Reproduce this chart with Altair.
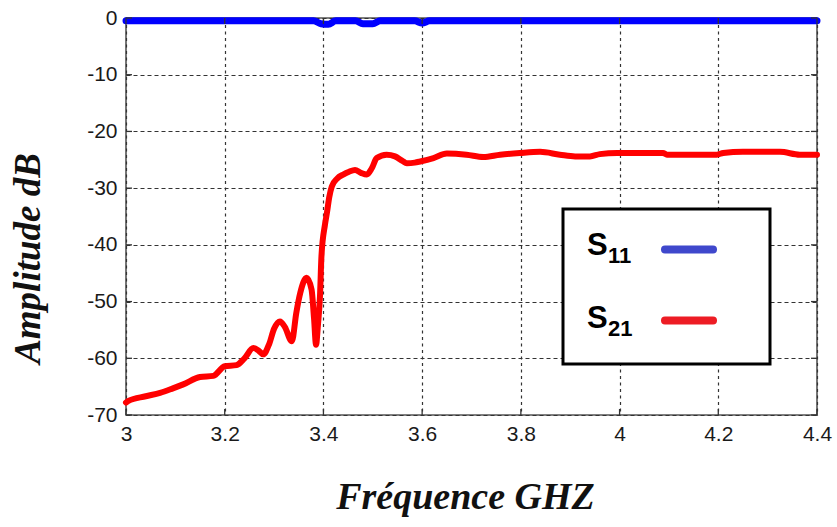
import altair as alt
import pandas as pd

# S21 transmission (dB) versus frequency (GHz)
s21_freq = [3.000, 3.005, 3.040, 3.069, 3.095, 3.116, 3.150, 3.177, 3.200, 3.224,
            3.240, 3.258, 3.268, 3.278, 3.290, 3.300, 3.312, 3.322, 3.336, 3.345,
            3.353, 3.366, 3.376, 3.381, 3.385, 3.389, 3.393, 3.396, 3.403, 3.407,
            3.412, 3.417, 3.428, 3.440, 3.452, 3.464, 3.476, 3.488, 3.498, 3.508,
            3.528, 3.545, 3.560, 3.569, 3.585, 3.596, 3.623, 3.650, 3.690, 3.724,
            3.758, 3.798, 3.839, 3.879, 3.910, 3.940, 3.960, 3.995, 4.088, 4.096,
            4.197, 4.210, 4.250, 4.325, 4.365, 4.400]
s21_db = [-67.8, -67.5, -66.7, -66.1, -65.3, -64.6, -63.3, -63.1, -61.4, -61.2,
          -60.0, -58.2, -58.6, -59.3, -57.5, -54.8, -53.5, -54.5, -57.0, -52.0,
          -48.5, -45.8, -47.9, -53.0, -57.6, -54.0, -49.1, -42.0, -36.5, -34.4,
          -31.5, -29.7, -28.3, -27.6, -27.1, -26.8, -27.3, -27.6, -26.5, -24.7,
          -24.1, -24.4, -25.2, -25.6, -25.5, -25.3, -24.7, -23.9, -24.1, -24.5,
          -24.1, -23.8, -23.6, -24.1, -24.4, -24.4, -24.0, -23.8, -23.8, -24.1,
          -24.1, -23.8, -23.6, -23.6, -24.1, -24.1]

# S11 reflection (dB) versus frequency (GHz)
s11_freq = [3.000, 3.180, 3.190, 3.380, 3.395, 3.410, 3.425, 3.465, 3.480, 3.500,
            3.515, 3.585, 3.600, 3.615, 4.400]
s11_db = [-0.5, -0.5, -0.5, -0.5, -1.0, -1.1, -0.5, -0.5, -1.0, -1.0,
          -0.5, -0.5, -0.9, -0.5, -0.5]

x_ticks = [3.0, 3.2, 3.4, 3.6, 3.8, 4.0, 4.2, 4.4]
y_ticks = [0, -10, -20, -30, -40, -50, -60, -70]

legend_names = ["S", "S"]
legend_subs = ["11", "21"]
legend_colors = ["#3F48CC", "#ED1C24"]

W, H = 691, 397

x_scale = alt.Scale(domain=[3, 4.4], nice=False, zero=False)
y_scale = alt.Scale(domain=[-70, 0], nice=False, zero=False)

df21 = pd.DataFrame({"f": s21_freq, "db": s21_db})
df11 = pd.DataFrame({"f": s11_freq, "db": s11_db})
dfx = pd.DataFrame({"f": x_ticks})
dfy = pd.DataFrame({"db": y_ticks})
one = pd.DataFrame({"k": [0]})

x_axis = alt.Axis(
    values=x_ticks, format=".1~f", grid=True, gridDash=[3, 3.5], gridColor="#333",
    gridWidth=1.2, gridOpacity=1, domain=False, ticks=False, labelFlush=False,
    labelFont="Liberation Sans", labelFontSize=21, labelColor="#1a1a1a", labelPadding=8,
    title="Fréquence GHZ", titleFont="Liberation Serif", titleFontSize=38,
    titleFontStyle="italic", titleFontWeight="bold", titleColor="#111",
    titleAlign="center", titleBaseline="alphabetic", titleX=339, titleY=93,
)
y_axis = alt.Axis(
    values=y_ticks, grid=True, gridDash=[4, 3], gridColor="#333", gridWidth=1.2,
    gridOpacity=1, domain=False, ticks=False, labelFlush=False,
    labelExpr="datum.value == 0 ? '0' : '-' + abs(datum.value)",
    labelFont="Liberation Sans", labelFontSize=21, labelColor="#1a1a1a", labelPadding=9,
    title="Amplitude dB", titleFont="Liberation Serif", titleFontSize=37,
    titleFontStyle="italic", titleFontWeight="bold", titleColor="#111",
    titleAngle=270, titleAlign="center", titleBaseline="middle", titleX=-98, titleY=240,
)

X = alt.X("f:Q", scale=x_scale, axis=x_axis)
Y = alt.Y("db:Q", scale=y_scale, axis=y_axis)

s21 = alt.Chart(df21).mark_line(color="#FF0000", strokeWidth=6, strokeCap="round",
                                strokeJoin="round", interpolate="monotone",
                                clip=False).encode(x=X, y=Y)
s11 = alt.Chart(df11).mark_line(color="#0000FF", strokeWidth=7, strokeCap="round",
                                strokeJoin="round", interpolate="monotone",
                                clip=False).encode(x=X, y=Y)

# inward tick marks on all four sides of the frame
tick_style = dict(color="#333", strokeWidth=1.3)
ticks_bottom = alt.Chart(dfx).mark_rule(**tick_style).encode(
    x=X, y=alt.value(H), y2=alt.value(H - 6))
ticks_top = alt.Chart(dfx).mark_rule(**tick_style).encode(
    x=X, y=alt.value(0), y2=alt.value(6))
ticks_left = alt.Chart(dfy).mark_rule(**tick_style).encode(
    y=Y, x=alt.value(0), x2=alt.value(6))
ticks_right = alt.Chart(dfy).mark_rule(**tick_style).encode(
    y=Y, x=alt.value(W), x2=alt.value(W - 6))

# legend box
box = alt.Chart(one).mark_rect(fill="white", stroke="black", strokeWidth=3).encode(
    x=alt.value(437), x2=alt.value(644), y=alt.value(191), y2=alt.value(346))

legend_layers = [box]
for i, (name, sub, col) in enumerate(zip(legend_names, legend_subs, legend_colors)):
    base_y = 237 + i * 73
    legend_layers.append(alt.Chart(one).mark_text(
        text=name, font="Liberation Sans", fontSize=31, fontWeight="bold", color="black",
        align="left", baseline="alphabetic").encode(x=alt.value(461), y=alt.value(base_y)))
    legend_layers.append(alt.Chart(one).mark_text(
        text=sub, font="Liberation Sans", fontSize=22, fontWeight="bold", color="black",
        align="left", baseline="alphabetic").encode(x=alt.value(482), y=alt.value(base_y + 8)))
    line_y = 231.5 + i * 71
    legend_layers.append(alt.Chart(one).mark_rule(
        color=col, strokeWidth=8, strokeCap="round").encode(
        x=alt.value(539), x2=alt.value(587), y=alt.value(line_y)))

chart = alt.layer(
    s21, s11, ticks_bottom, ticks_top, ticks_left, ticks_right, *legend_layers
).properties(
    width=W, height=H,
    autosize=alt.AutoSizeParams(type="none"),
    padding={"left": 126, "top": 18, "right": 20, "bottom": 112},
    background="white",
).configure_view(stroke="#555", strokeWidth=1.6)

chart.save("out.html", embed_options={"renderer": "svg", "actions": False})
